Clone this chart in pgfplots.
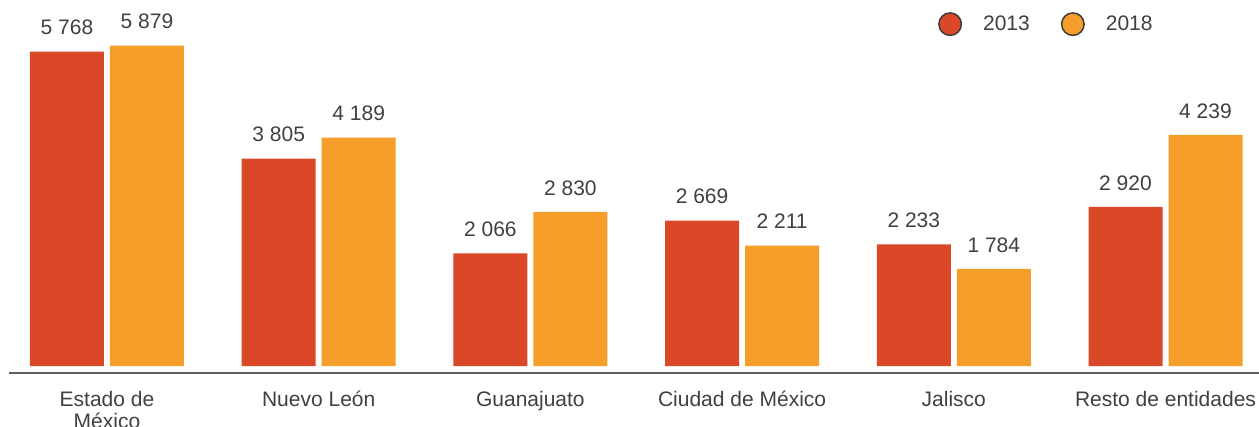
\documentclass[border=0pt]{standalone}
\usepackage{fontspec}
\setmainfont{Liberation Sans}
\usepackage{pgfplots}
\pgfplotsset{compat=1.18}
\definecolor{c13}{RGB}{219,72,40}
\definecolor{c18}{RGB}{245,158,42}
\definecolor{txt}{RGB}{64,64,64}
\definecolor{rulecol}{RGB}{96,96,96}
\definecolor{ring}{RGB}{60,60,60}

\begin{document}
\begin{tikzpicture}
\begin{axis}[
  scale only axis, width=1259pt, height=366pt,
  at={(0pt,0pt)}, anchor=south west,
  xmin=-0.5054, xmax=5.4416, ymin=0, ymax=6716,
  ybar=6pt, bar width=74pt,
  axis line style={draw=none}, tick style={draw=none},
  ytick=\empty, xtick={0,...,5},
  xticklabels={{Estado de\\México},{Nuevo León},Guanajuato,{Ciudad de México},Jalisco,{Resto de entidades}},
  xticklabel style={font=\fontsize{21}{22}\selectfont, text=txt, align=center, anchor=north, yshift=-17pt},
  nodes near coords,
  nodes near coords style={font=\fontsize{21}{24}\selectfont, text=txt, yshift=13pt},
  /pgf/number format/assume math mode=true,
  /pgf/number format/1000 sep={\ },
  clip=false,
  legend columns=2,
  legend style={draw=none, fill=none, inner sep=0pt, column sep=21pt,
    /tikz/every even column/.append style={column sep=31pt},
    nodes={inner sep=0pt, font=\fontsize{21}{24}\selectfont, text=txt},
    at={(0.745,0.934)}, anchor=west},
]
\addplot[fill=c13, draw=none,
  legend image code/.code={\draw[fill=c13, draw=ring, line width=1.5pt] (0pt,0pt) circle (11.25pt);}]
  coordinates {(0,5768) (1,3805) (2,2066) (3,2669) (4,2233) (5,2920)};
\addplot[fill=c18, draw=none,
  legend image code/.code={\draw[fill=c18, draw=ring, line width=1.5pt] (0pt,0pt) circle (11.25pt);}]
  coordinates {(0,5879) (1,4189) (2,2830) (3,2211) (4,1784) (5,4239)};
\legend{2013,2018}
\end{axis}
\draw[rulecol, line width=2pt] (9pt,-7pt) -- (1259pt,-7pt);
\pgfresetboundingbox
\useasboundingbox (0pt,-60pt) rectangle (1259pt,366pt);
\end{tikzpicture}
\end{document}
